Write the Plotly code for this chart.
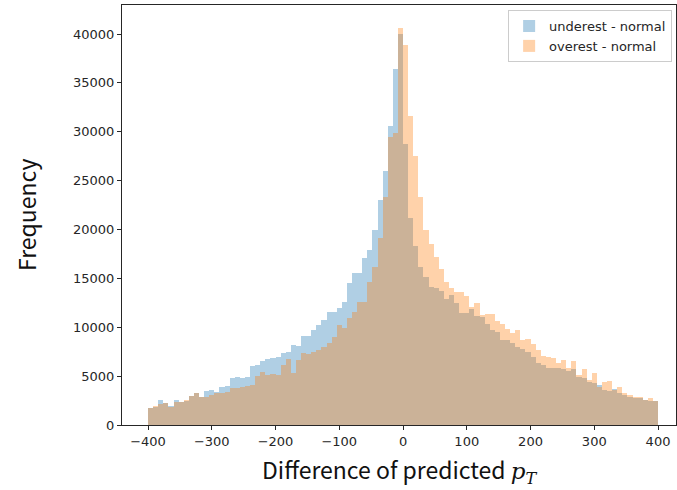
import numpy as np
import plotly.graph_objects as go

# Histogram bin edges: 100 bins of width 8 from -400 to 400
bin_start = -400
bin_width = 8
n_bins = 100

underest = [
    1700, 1850, 2560, 2220, 1940, 2560, 2390, 2500, 2970, 3240,
    2830, 3510, 3580, 3410, 3850, 3990, 4840, 4950, 4770, 4950,
    6040, 6140, 6550, 6720, 6890, 6990, 7330, 7500, 8180, 8080,
    9100, 9100, 9720, 10230, 10740, 11590, 11590, 11940, 12620, 14490,
    15510, 15510, 17050, 17900, 19950, 23000, 25980, 30600, 36390, 40000,
    28750, 21150, 18300, 16130, 15170, 14150, 13980, 13740, 12860, 13300,
    12450, 11490, 11430, 11840, 11150, 11000, 10330, 9720, 9550, 8700,
    8700, 8360, 8010, 7740, 7500, 6920, 6310, 6140, 5800, 5800,
    5800, 5700, 5560, 5700, 4880, 4780, 4430, 4330, 4090, 3580,
    3480, 3650, 3300, 3070, 2900, 2730, 2730, 2560, 2500, 2460,
]

overest = [
    1780, 1950, 2150, 2250, 1870, 2390, 2390, 2560, 2970, 3240,
    2830, 2900, 3070, 3240, 3310, 3410, 3750, 3750, 3920, 3990,
    4090, 5010, 5460, 5120, 5220, 5120, 6140, 6720, 5290, 6650,
    7400, 7260, 7500, 7670, 8000, 8420, 9030, 10230, 9900, 10900,
    11590, 12620, 12620, 14660, 16200, 19100, 23360, 29500, 29900, 40600,
    38900, 31600, 27500, 23300, 20000, 18500, 17200, 16000, 14660, 13980,
    13640, 13640, 13200, 12100, 12500, 11250, 11360, 11360, 10670, 10330,
    9790, 9380, 9720, 8700, 8770, 8290, 7670, 7060, 6990, 6820,
    6310, 6650, 5800, 6580, 5120, 5700, 4600, 5350, 3920, 4430,
    4530, 3580, 3850, 3300, 3070, 2830, 2830, 2560, 2730, 2460,
]

series_names = ["underest - normal", "overest - normal"]
x_tick_vals = [-400, -300, -200, -100, 0, 100, 200, 300, 400]
y_tick_vals = [0, 5000, 10000, 15000, 20000, 25000, 30000, 35000, 40000]

centers = bin_start + bin_width * (np.arange(n_bins) + 0.5)

fig = go.Figure()
fig.add_trace(go.Bar(
    x=centers, y=underest, width=bin_width, name=series_names[0],
    marker=dict(color="#1f77b4", line=dict(width=0)), opacity=0.35,
))
fig.add_trace(go.Bar(
    x=centers, y=overest, width=bin_width, name=series_names[1],
    marker=dict(color="#ff7f0e", line=dict(width=0)), opacity=0.35,
))

tick_font = dict(family="DejaVu Sans", size=13, color="#262626")
fig.update_layout(
    width=677, height=490,
    margin=dict(l=122, r=1, t=5, b=65),
    barmode="overlay", bargap=0,
    plot_bgcolor="white", paper_bgcolor="white",
    showlegend=True,
    legend=dict(
        x=0.993, y=0.988, xanchor="right", yanchor="top",
        bgcolor="rgba(255,255,255,0.8)", bordercolor="#cccccc", borderwidth=1,
        font=dict(family="DejaVu Sans", size=13, color="#262626"),
        itemwidth=30, tracegroupgap=2,
    ),
    xaxis=dict(
        range=[-440.8, 428.2], tickvals=x_tick_vals,
        ticktext=[str(v).replace("-", "\u2212") for v in x_tick_vals],
        ticks="outside", ticklen=4, tickcolor="#262626",
        showline=True, linecolor="#262626", linewidth=1, mirror=True,
        showgrid=False, zeroline=False, tickfont=tick_font,
    ),
    yaxis=dict(
        range=[0, 42967], tickvals=y_tick_vals,
        ticktext=[str(v) for v in y_tick_vals],
        ticks="outside", ticklen=4, tickcolor="#262626",
        showline=True, linecolor="#262626", linewidth=1, mirror=True,
        showgrid=False, zeroline=False, tickfont=tick_font,
    ),
    annotations=[
        dict(text="Frequency", xref="paper", yref="paper", x=0, y=0.5,
             xanchor="center", yanchor="middle", xshift=-96, textangle=-90,
             showarrow=False,
             font=dict(family="Noto Sans CJK JP", size=23, color="#111111")),
        dict(text="Difference of predicted <span style='font-family:DejaVu Serif'><i>p</i><sub><i>T</i></sub></span>",
             xref="paper", yref="paper", x=0.5, y=0, xanchor="center", yanchor="middle",
             yshift=-45, showarrow=False,
             font=dict(family="Noto Sans CJK JP", size=23, color="#111111")),
    ],
)

fig.write_html("out.html")
